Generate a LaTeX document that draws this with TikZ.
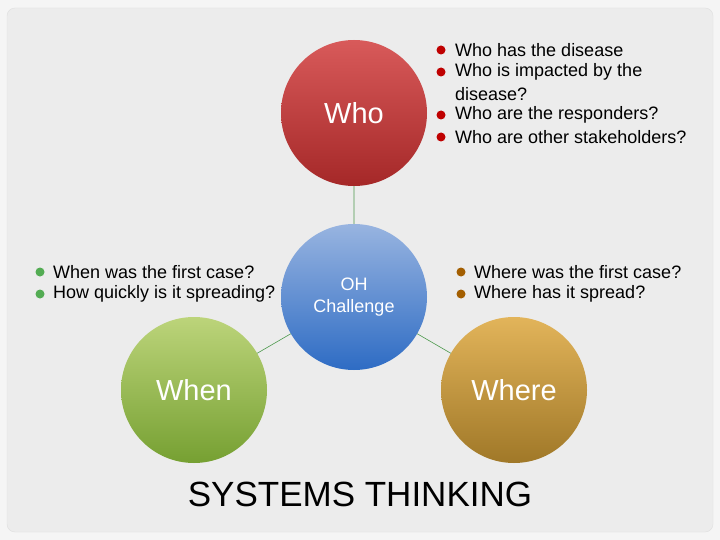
\documentclass[tikz,border=0pt]{standalone}
\usepackage{fontspec}
\setmainfont{Liberation Sans}
\definecolor{whoT}{HTML}{D85A5A}\definecolor{whoB}{HTML}{A52828}
\definecolor{ohT}{HTML}{98B4E0}\definecolor{ohB}{HTML}{2E6CC4}
\definecolor{whenT}{HTML}{BCD47A}\definecolor{whenB}{HTML}{76A032}
\definecolor{whereT}{HTML}{E2B45A}\definecolor{whereB}{HTML}{A07828}
\begin{document}
\begin{tikzpicture}[x=1pt,y=-1pt,
  ball/.style={circle,minimum size=146pt,inner sep=0pt,font=\fontsize{29}{33}\selectfont},
  link/.style={draw=black!25!green!40!gray,line width=0.6pt},
  txt/.style={anchor=west,font=\fontsize{18}{21}\selectfont,inner sep=0pt,align=left},
  dot/.style={circle,inner sep=0pt,minimum size=9pt}]
\useasboundingbox (0,0) rectangle (720,540);
\fill[gray!8] (0,0) rectangle (720,540);
\fill[rounded corners=8pt,gray!15,draw=gray!25] (7,8) rectangle (713,532);
\coordinate (cwho) at (354,113);
\coordinate (coh) at (354,297);
\coordinate (cwhen) at (194,390);
\coordinate (cwhere) at (514,390);
\draw[link] (cwho) -- (coh) (coh) -- (cwhen) (coh) -- (cwhere);
\node[ball,top color=whoT,bottom color=whoB,text=white] (who) at (cwho) {Who};
\node[ball,top color=ohT,bottom color=ohB,text=white,font=\fontsize{18}{22}\selectfont,align=center] (oh) at (coh) {OH\\Challenge};
\node[ball,top color=whenT,bottom color=whenB,text=white] (when) at (cwhen) {When};
\node[ball,top color=whereT,bottom color=whereB,text=white] (where) at (cwhere) {Where};
\foreach \y/\t in {50/Who has the disease,72/Who is impacted by the,115/Who are the responders?,137/Who are other stakeholders?}
  {\node[dot,fill=red!75!black] at (441,\y) {}; \node[txt] at (455,\y) {\t};}
\node[txt] at (455,94) {disease?};
\foreach \y/\t in {272/When was the first case?,294/How quickly is it spreading?}
  {\node[dot,fill=green!35!gray] at (40,\y) {}; \node[txt] at (53,\y) {\t};}
\foreach \y/\t in {272/Where was the first case?,294/Where has it spread?}
  {\node[dot,fill=orange!60!black!90!yellow] at (461,\y) {}; \node[txt] at (474,\y) {\t};}
\node[font=\fontsize{35}{40}\selectfont] (title) at (360,494) {SYSTEMS THINKING};
\end{tikzpicture}
\end{document}
